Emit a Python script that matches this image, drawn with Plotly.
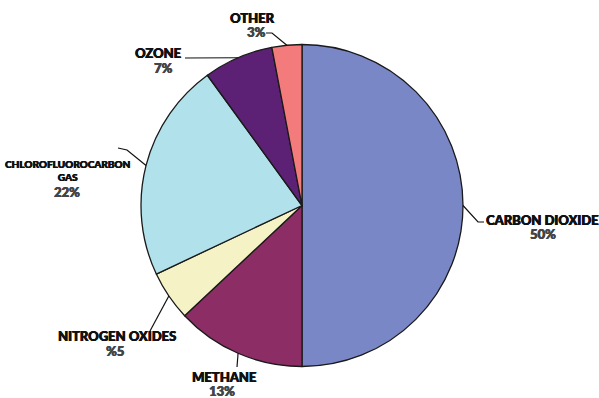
import math
import plotly.graph_objects as go

# ---- data ----
names = ["CARBON DIOXIDE", "METHANE", "NITROGEN OXIDES", "CHLOROFLUOROCARBON<br>GAS", "OZONE", "OTHER"]
values = [50, 13, 5, 22, 7, 3]
pct_labels = ["50%", "13%", "%5", "22%", "7%", "3%"]
colors = ["#7A87C7", "#8C2D66", "#F5F3C6", "#B1E1EB", "#5C2174", "#F37B7B"]

W, H = 599, 398
cx, cy, r = 302, 205.5, 161

# label placement (pixels): name centre, pct centre, font size of name, leader bend points
label_style = [
    dict(name=(542, 220), pct=(543, 234), fs=13, path_after=[(478, 222), (484, 222)]),
    dict(name=(224, 377), pct=(222, 391), fs=13, path_after=[(237, 367)]),
    dict(name=(117, 336), pct=(115, 351), fs=13, path_after=[(150, 331)]),
    dict(name=(67, 171), pct=(67, 192), fs=10, path_after=[(127, 150), (118, 148)]),
    dict(name=(158, 53), pct=(163, 68), fs=13, path_after=[(185, 58)]),
    dict(name=(252, 18), pct=(256, 32), fs=13, path_after=[(272, 33), (266, 33)]),
]

FONT = "Lato, Liberation Sans, Arial, sans-serif"
THICK = "0.45px 0 0 #111, -0.3px 0 0 #111"
THICK_G = "0.45px 0 0 #454545, -0.3px 0 0 #454545"

def px(x):
    return x / W

def py(y):
    return 1 - y / H

fig = go.Figure(go.Pie(
    labels=names,
    values=values,
    sort=False,
    direction="clockwise",
    rotation=0,
    marker=dict(colors=colors, line=dict(color="#1a1a1a", width=1.3)),
    textinfo="none",
    hoverinfo="label+percent",
    showlegend=False,
    domain=dict(x=[px(cx - r), px(cx + r)], y=[py(cy + r), py(cy - r)]),
))

total = sum(values)
cum = 0
annotations = []
shapes = []
for i, v in enumerate(values):
    mid = (cum + v / 2) / total * 2 * math.pi
    cum += v
    ex = cx + r * math.sin(mid)
    ey = cy - r * math.cos(mid)
    st = label_style[i]
    pts = [(ex, ey)] + st["path_after"]
    path = "M " + " L ".join(f"{px(x)},{py(y)}" for x, y in pts)
    shapes.append(dict(type="path", xref="paper", yref="paper", path=path,
                       line=dict(color="#111", width=1.2)))
    annotations.append(dict(x=px(st["name"][0]), y=py(st["name"][1]), xref="paper", yref="paper",
                            text=names[i], showarrow=False, xanchor="center", yanchor="middle",
                            font=dict(family=FONT, size=st["fs"], color="#111", weight=900, shadow=THICK),
                            align="center", borderpad=0))
    annotations.append(dict(x=px(st["pct"][0]), y=py(st["pct"][1]), xref="paper", yref="paper",
                            text=pct_labels[i], showarrow=False, xanchor="center", yanchor="middle",
                            font=dict(family=FONT, size=13, color="#454545", weight=900, shadow=THICK_G),
                            borderpad=0))

fig.update_layout(
    width=W, height=H,
    margin=dict(l=0, r=0, t=0, b=0),
    paper_bgcolor="white",
    plot_bgcolor="white",
    annotations=annotations,
    shapes=shapes,
)

fig.write_html("out.html")
